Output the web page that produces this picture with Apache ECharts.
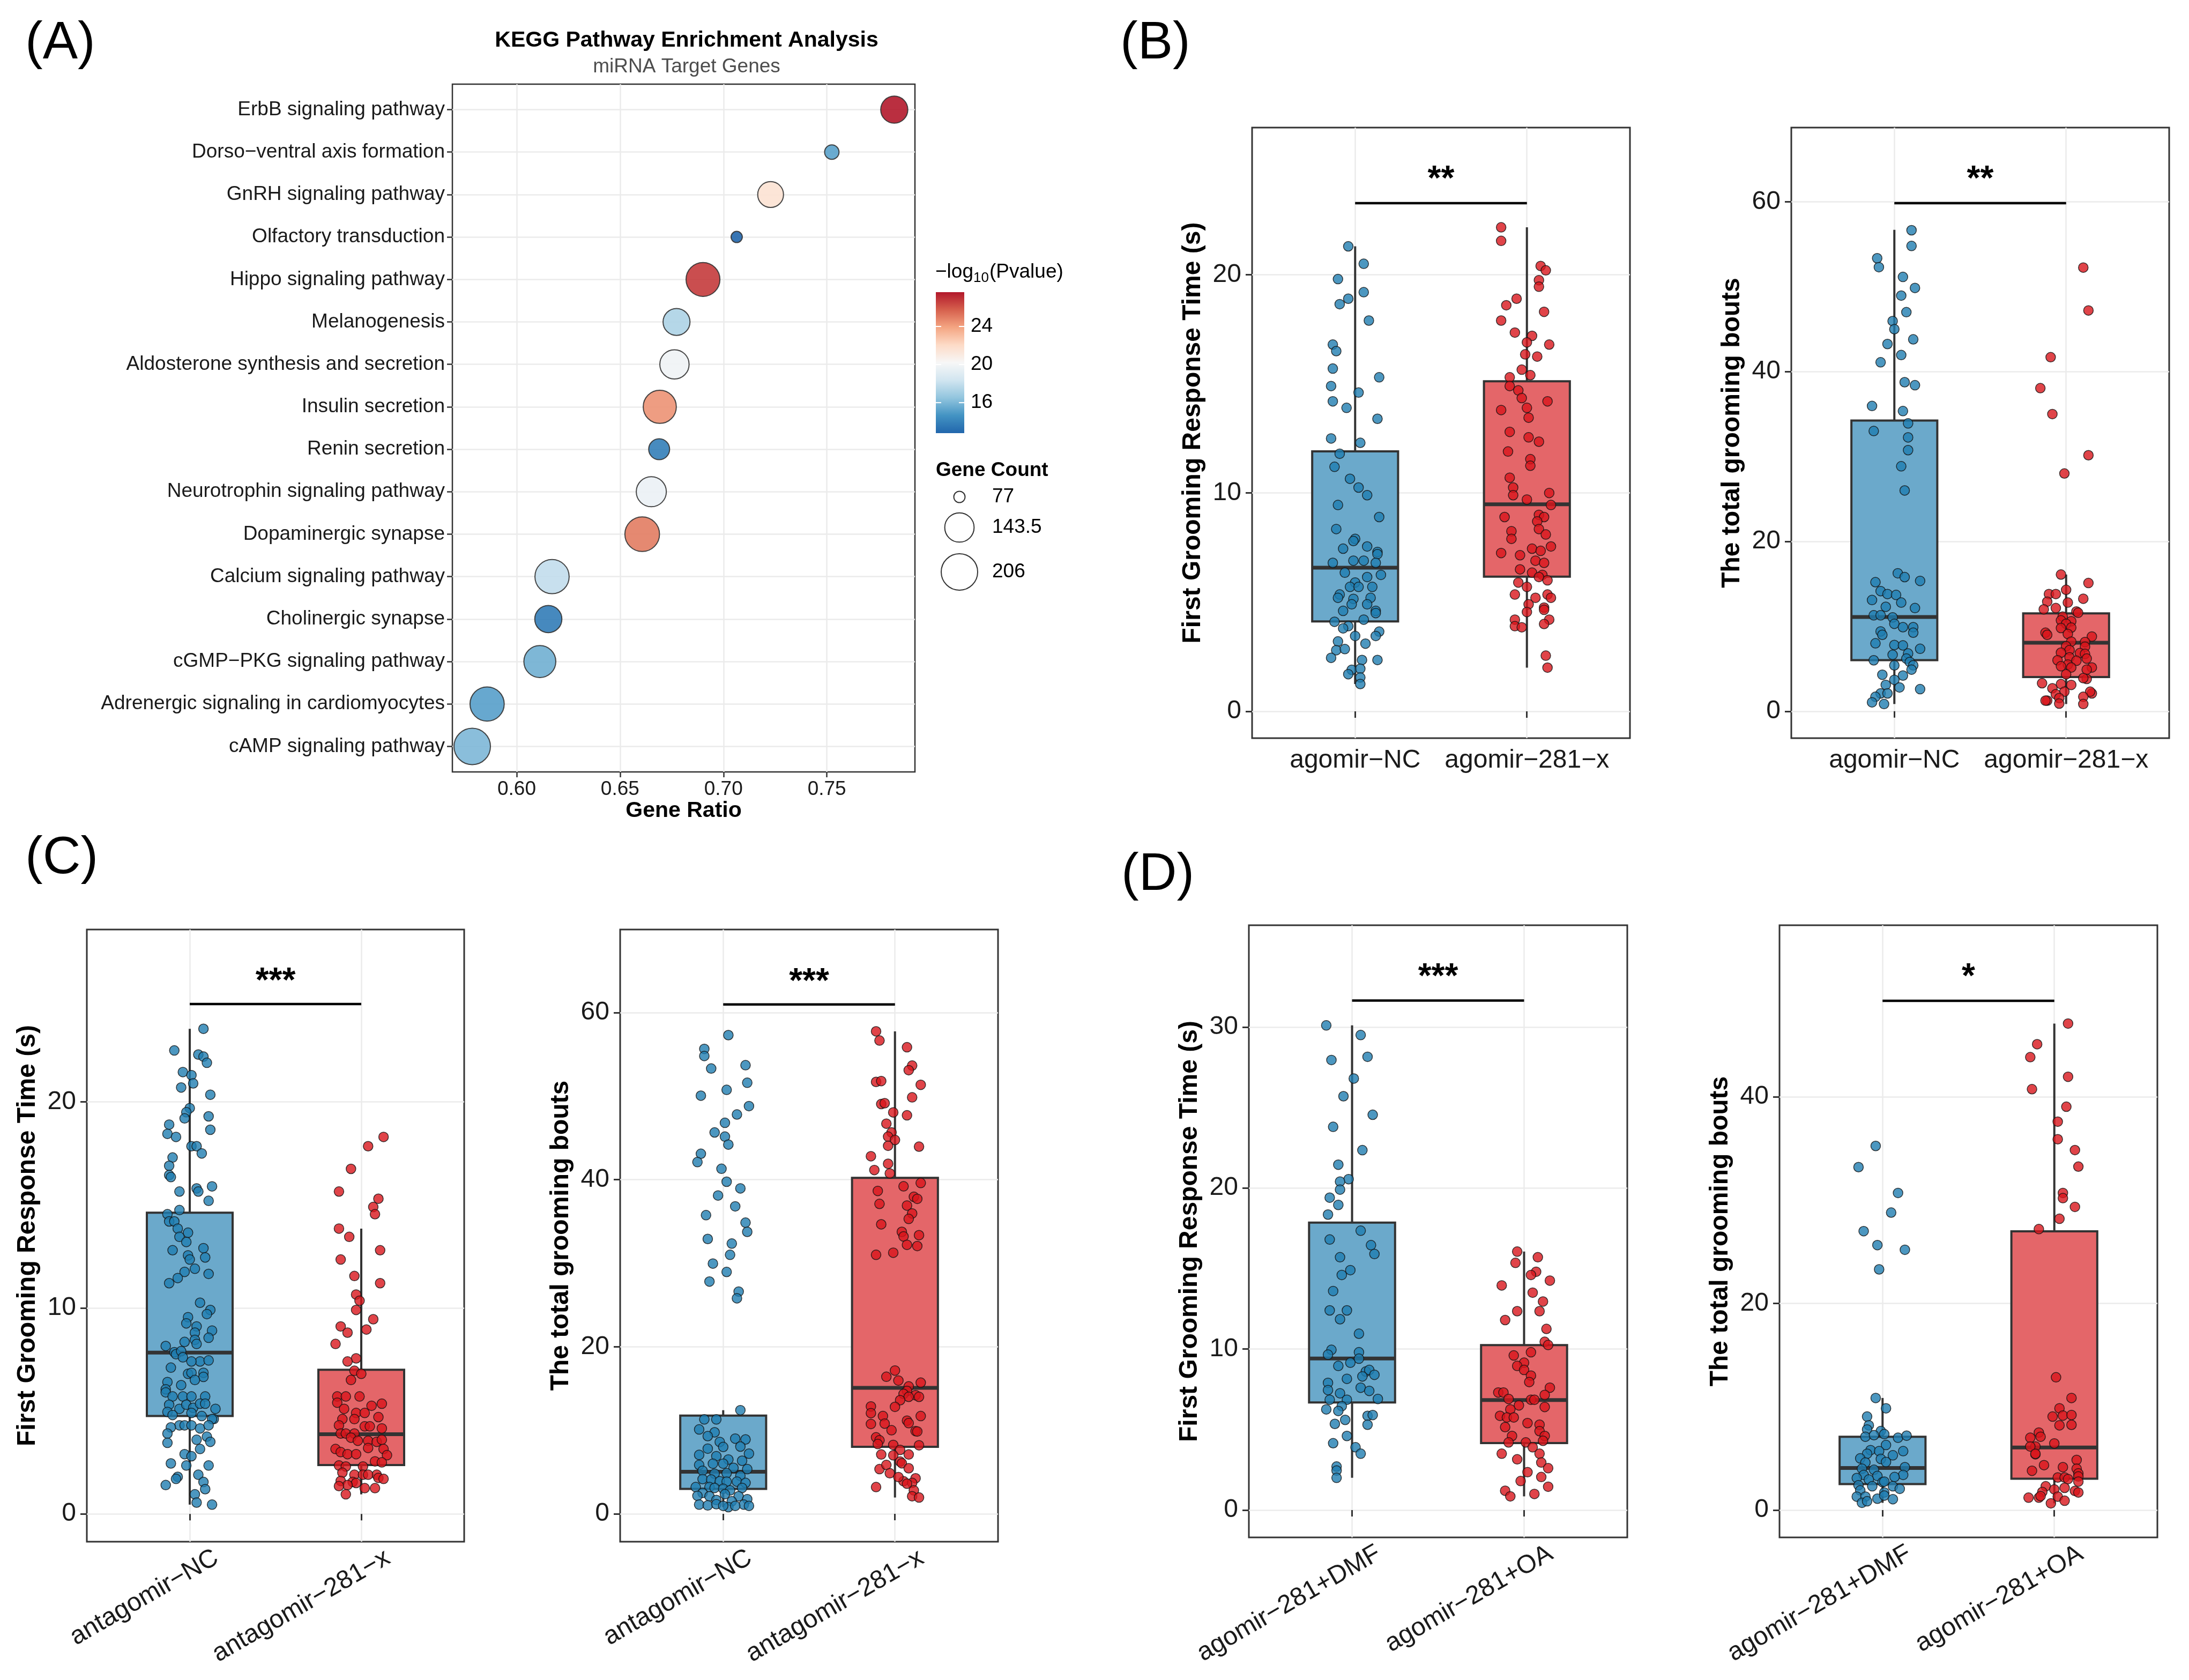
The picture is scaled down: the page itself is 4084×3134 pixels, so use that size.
<!DOCTYPE html>
<html>
<head>
<meta charset="utf-8">
<script src="https://cdn.jsdelivr.net/npm/echarts@6/dist/echarts.min.js"></script>
<style>
  html, body { margin: 0; padding: 0; background: #fff; }
  #fig { width: 4084px; height: 3134px; }
</style>
</head>
<body>
<div id="fig"></div>
<script>
// ---------- panel A : KEGG enrichment ----------
const keggTerms = ['ErbB signaling pathway', 'Dorso\u2212ventral axis formation', 'GnRH signaling pathway',
  'Olfactory transduction', 'Hippo signaling pathway', 'Melanogenesis', 'Aldosterone synthesis and secretion',
  'Insulin secretion', 'Renin secretion', 'Neurotrophin signaling pathway', 'Dopaminergic synapse',
  'Calcium signaling pathway', 'Cholinergic synapse', 'cGMP\u2212PKG signaling pathway',
  'Adrenergic signaling in cardiomyocytes', 'cAMP signaling pathway'];
const geneRatio = [0.7826, 0.7524, 0.7228, 0.7064, 0.6901, 0.6773, 0.6763, 0.6692, 0.6689, 0.6651, 0.6607, 0.6171, 0.6153, 0.6112, 0.5857, 0.5785];
const geneCount = [128, 79, 120, 77, 181, 127, 143, 174, 96, 149, 188, 184, 128, 164, 184, 206];
const negLogP = [27.6, 15.2, 21.6, 12.8, 26.7, 17.3, 19.8, 24.4, 13.8, 19.6, 25.0, 17.9, 13.7, 15.7, 15.1, 16.0];
const ratioTicks = [0.60, 0.65, 0.70, 0.75];
const pTicks = [16, 20, 24];
const countBreaks = [77, 143.5, 206];

// ---------- boxplot panels ----------
const catB = ['agomir\u2212NC', 'agomir\u2212281\u2212x'];
const catC = ['antagomir\u2212NC', 'antagomir\u2212281\u2212x'];
const catD = ['agomir\u2212281+DMF', 'agomir\u2212281+OA'];
const ticks10 = [0, 10, 20];
const ticks10b = [0, 10, 20, 30];
const ticks20 = [0, 20, 40, 60];
const ticks20b = [0, 20, 40];

// box stats: [min, Q1, median, Q3, max]
const bTimeBox = [[1.25, 4.12, 6.58, 11.91, 21.3], [2.0, 6.17, 9.48, 15.12, 22.17]];
const bBoutBox = [[0.85, 6.02, 11.1, 34.24, 56.7], [0.85, 4.03, 8.07, 11.52, 16.1]];
const cTimeBox = [[0.45, 4.75, 7.83, 14.62, 23.55], [0.95, 2.37, 3.87, 7.0, 13.85]];
const cBoutBox = [[0.8, 2.98, 5.03, 11.75, 12.4], [1.95, 8.01, 15.08, 40.22, 57.75]];
const dTimeBox = [[2.0, 6.68, 9.41, 17.85, 30.1], [0.85, 4.16, 6.83, 10.24, 16.05]];
const dBoutBox = [[0.7, 2.51, 4.07, 7.10, 10.85], [0.65, 3.03, 6.06, 26.98, 47.1]];

// significance: [bracket y, label y, label]
const bTimeSig = [23.28, 24.7, '**'];
const bBoutSig = [59.84, 63.5, '**'];
const cTimeSig = [24.75, 26.2, '***'];
const cBoutSig = [60.97, 64.5, '***'];
const dTimeSig = [31.64, 33.55, '***'];
const dBoutSig = [49.3, 52.3, '*'];

// jittered observations: [x offset from group centre, value]
const bNcTime = [[-0.04,21.3],[0.05,20.5],[-0.10,19.8],[0.05,19.2],[-0.04,18.9],[-0.09,18.65],[0.08,17.9],[-0.13,16.8],[-0.11,16.5],[-0.13,15.7],[0.14,15.3],[-0.14,14.9],[0.02,14.6],[-0.13,14.2],[-0.05,13.9],[0.13,13.4],[-0.14,12.5],[0.03,12.3],[-0.09,11.8],[-0.12,11.2],[-0.03,10.65],[0.02,10.25],[0.07,9.9],[-0.10,9.45],[0.14,8.9],[-0.11,8.35],[0,7.9],[-0.01,7.8],[0.07,7.55],[-0.07,7.45],[0.13,7.3],[0.13,7.2],[-0.13,6.8],[-0.01,6.9],[0.05,6.9],[0.12,6.8],[-0.06,6.35],[0.15,6.25],[0.07,6.15],[0,5.9],[-0.03,5.7],[0.02,5.7],[0.10,5.7],[-0.09,5.35],[-0.10,5.2],[-0.01,5.15],[0.09,5.2],[0.07,4.9],[-0.02,4.9],[-0.07,4.6],[0.12,4.6],[0.12,4.5],[-0.12,4.1],[0.05,4.2],[-0.04,3.9],[-0.07,3.8],[0.14,3.65],[0.12,3.45],[0,3.45],[-0.10,3.2],[0.06,3.1],[-0.11,2.8],[-0.06,2.85],[-0.14,2.45],[0.04,2.35],[0.13,2.35],[-0.02,1.9],[-0.04,1.7],[0.03,1.95],[0.03,1.55],[0.03,1.25]];
const bAgTime = [[-0.15,22.17],[-0.15,21.55],[0.08,20.4],[0.11,20.2],[0.07,19.75],[0.07,19.45],[-0.06,18.9],[-0.12,18.6],[0.10,18.3],[-0.15,17.9],[-0.07,17.35],[0.03,17.2],[0,16.9],[0.13,16.8],[-0.01,16.35],[0.06,16.25],[-0.03,15.65],[0.02,15.4],[-0.10,15.3],[-0.10,14.9],[-0.05,14.7],[-0.03,14.35],[0.12,14.2],[0,13.9],[-0.15,13.8],[0.01,13.45],[-0.10,12.8],[0.01,12.55],[0.07,12.35],[-0.11,11.9],[0.02,11.55],[0.02,11.25],[-0.10,10.7],[-0.08,10.25],[-0.08,9.9],[0.13,10.0],[0,9.7],[0.14,9.45],[-0.13,8.9],[0.07,9.0],[0.10,8.9],[0.06,8.7],[0.07,8.35],[-0.09,8.25],[0.11,8.1],[-0.09,7.9],[0.03,7.45],[0.08,7.35],[0.14,7.55],[-0.15,7.25],[-0.04,7.15],[0.05,6.9],[0.10,6.8],[-0.04,6.5],[0.03,6.35],[0.09,6.25],[0.07,6.15],[-0.05,5.9],[0.12,6.0],[0,5.7],[-0.07,5.35],[0.05,5.2],[0.12,5.35],[0.14,5.2],[0.01,4.9],[0.10,4.75],[0,4.55],[0.10,4.65],[-0.07,4.2],[0.13,4.2],[-0.07,3.9],[-0.03,3.85],[0.10,4.0],[0.11,2.55],[0.12,2.0]];
const bNcBout = [[0.10,56.65],[0.10,54.8],[-0.10,53.35],[-0.09,52.3],[0.05,51.15],[0.12,49.85],[0.04,48.95],[0.07,47.0],[-0.01,45.95],[0,45.0],[0.11,43.8],[-0.04,43.25],[0.04,41.95],[-0.08,41.1],[0.06,38.75],[0.12,38.4],[-0.13,35.95],[0.05,35.35],[0.08,33.9],[-0.12,33.0],[0.08,32.25],[0.08,30.75],[0.04,28.85],[0.06,26.0],[0.02,16.25],[0.06,15.8],[0.15,15.35],[-0.11,15.2],[-0.08,14.15],[-0.04,13.8],[0.01,13.7],[-0.13,13.1],[0.04,12.8],[-0.05,12.3],[0.12,12.15],[-0.12,11.3],[-0.08,11.3],[-0.01,11.05],[0,10.3],[0.05,9.9],[0.11,9.9],[-0.08,9.4],[-0.07,9.0],[0.11,9.25],[-0.11,8.0],[0,7.8],[0.05,7.75],[0.15,7.35],[-0.01,6.65],[0.08,6.8],[-0.12,6.0],[0.07,6.2],[0.09,5.8],[0.11,5.4],[0,5.4],[0.10,4.9],[-0.07,4.3],[0.05,4.2],[0,3.7],[-0.05,3.1],[0.03,2.8],[0.15,2.6],[-0.08,2.1],[-0.04,2.1],[-0.11,1.7],[-0.13,1.05],[-0.06,0.85]];
const bAgBout = [[0.10,52.25],[0.13,47.2],[-0.09,41.7],[-0.15,38.05],[-0.08,35.0],[0.13,30.15],[-0.01,28.0],[-0.03,16.1],[0.13,15.1],[-0.10,13.8],[-0.06,13.8],[0,14.3],[0.10,13.25],[-0.11,12.9],[0.01,12.8],[-0.13,12.0],[-0.06,12.15],[0.06,11.75],[0.07,11.6],[-0.02,11.15],[-0.03,10.7],[0.03,10.6],[0,10.3],[-0.03,9.8],[0.03,9.85],[-0.12,9.25],[-0.11,9.0],[0.01,9.1],[0.15,8.8],[0.03,8.2],[0.11,8.15],[0,7.65],[0.11,7.6],[0.02,7.2],[-0.03,6.9],[0.08,6.85],[0.11,6.75],[0.02,6.35],[-0.05,6.0],[0.12,6.2],[0.06,5.95],[0.01,5.5],[-0.03,5.3],[0.03,5.15],[0.15,5.15],[0.12,4.9],[0,4.35],[0.12,3.8],[0.10,3.9],[-0.14,3.3],[-0.03,3.2],[0.03,3.1],[-0.08,2.7],[-0.01,2.3],[-0.06,2.0],[0.15,2.1],[0.14,2.3],[-0.04,1.55],[-0.11,1.25],[-0.12,1.25],[0.10,1.7],[-0.04,0.9],[0.10,0.85]];
const cNcTime = [[0.08,23.55],[-0.09,22.5],[0.05,22.3],[0.08,22.2],[0.10,21.9],[-0.04,21.45],[0.01,21.3],[0.02,20.9],[-0.05,20.7],[0.12,20.35],[0,19.7],[-0.02,19.5],[-0.03,19.2],[0.11,19.3],[-0.12,18.9],[0.12,18.65],[-0.13,18.45],[-0.08,18.3],[0.01,17.85],[0.04,17.85],[0.07,17.5],[-0.10,17.3],[-0.12,16.9],[-0.12,16.45],[-0.11,16.35],[0.13,15.9],[0.04,15.8],[0.05,15.65],[-0.06,15.65],[0.11,15.2],[-0.06,14.75],[-0.13,14.55],[-0.12,14.2],[-0.09,14.2],[-0.07,13.85],[-0.01,13.65],[-0.06,13.45],[-0.02,13.2],[-0.10,12.8],[0.08,12.9],[-0.01,12.55],[0,12.35],[0.09,12.45],[0.03,11.9],[-0.03,11.75],[0.11,11.65],[-0.07,11.45],[-0.12,11.2],[0.06,10.25],[0.12,9.9],[-0.01,9.55],[0.10,9.7],[-0.02,9.25],[0.04,9.1],[0.03,8.8],[0.13,8.9],[0.11,8.55],[-0.03,8.35],[0.03,8.45],[0.04,8.25],[-0.14,8.15],[-0.09,7.85],[-0.08,7.75],[-0.05,7.9],[-0.04,7.6],[0.06,7.4],[0.01,7.4],[0.11,7.45],[-0.11,7.1],[-0.01,6.8],[0.08,6.85],[0.01,6.85],[0.08,6.65],[0.03,6.5],[-0.13,6.4],[-0.05,6.25],[-0.14,6.05],[-0.14,5.9],[-0.10,5.7],[-0.04,5.7],[0.01,5.7],[0.09,5.7],[-0.12,5.3],[-0.06,5.1],[-0.02,5.3],[0.02,5.15],[0.06,5.35],[0.09,5.35],[0.15,5.1],[-0.13,4.95],[-0.10,4.8],[0.01,4.9],[0.07,4.75],[0.14,4.6],[0.13,4.6],[-0.06,4.3],[-0.03,4.3],[0.01,4.3],[-0.11,4.2],[0.06,4.15],[0.11,4.3],[-0.13,3.9],[0.10,3.75],[0.04,3.6],[-0.13,3.45],[0.12,3.5],[0.06,3.15],[-0.03,2.9],[0.01,2.8],[-0.11,2.45],[-0.02,2.35],[0.11,2.35],[0.05,1.9],[-0.07,1.8],[-0.08,1.7],[0.08,1.55],[-0.14,1.4],[0.09,1.2],[0.03,0.95],[0.04,0.55],[0.13,0.45]];
const cAgTime = [[0.13,18.3],[0.04,17.85],[-0.06,16.75],[-0.13,15.65],[0.10,15.3],[0.07,14.9],[0.08,14.55],[-0.13,13.85],[-0.07,13.45],[0.11,12.8],[-0.12,12.35],[-0.04,11.55],[0.11,11.2],[-0.03,10.65],[-0.01,10.35],[-0.03,9.9],[0.07,9.45],[-0.12,9.1],[-0.08,8.8],[0.03,8.95],[-0.15,8.25],[-0.03,7.55],[-0.08,7.4],[-0.04,6.95],[0,6.8],[-0.06,6.5],[-0.14,5.7],[-0.09,5.7],[-0.01,5.7],[-0.14,5.4],[0.06,5.25],[0.12,5.35],[-0.10,5.1],[-0.03,4.9],[0.02,4.9],[0.10,4.7],[-0.04,4.6],[-0.11,4.6],[-0.13,4.3],[0.02,4.25],[0.05,4.25],[0.12,4.15],[-0.12,3.9],[-0.09,3.9],[-0.04,3.9],[-0.06,3.7],[-0.02,3.55],[0.04,3.55],[0.09,3.5],[0.12,3.6],[-0.15,3.15],[-0.12,3.0],[-0.08,2.9],[-0.03,2.9],[0.04,3.2],[0.13,3.15],[0.15,2.85],[0.08,2.55],[0.12,2.5],[-0.13,2.35],[-0.09,2.3],[0.01,2.3],[-0.11,2.0],[-0.04,1.9],[0.01,1.9],[0.09,1.9],[0.04,1.9],[0.10,1.75],[0.13,1.7],[-0.12,1.6],[-0.05,1.55],[-0.03,1.5],[-0.08,1.4],[-0.13,1.35],[0.02,1.25],[0.08,1.25],[-0.09,0.95]];
const cNcBout = [[0.03,57.3],[-0.11,55.65],[-0.11,54.8],[-0.07,53.3],[0.13,53.7],[0.14,51.6],[0.02,50.75],[-0.13,50.05],[0.15,48.8],[0.08,47.8],[0.01,46.8],[-0.05,45.65],[0.01,45.15],[0.03,44.2],[-0.13,43.1],[-0.15,42.1],[-0.01,41.3],[0.02,39.75],[0.10,38.95],[-0.03,38.1],[0.07,36.8],[-0.10,35.75],[0.13,34.85],[0.14,33.75],[-0.09,32.9],[0.05,32.35],[0.04,31.0],[-0.06,29.95],[0.02,28.95],[-0.08,27.8],[0.09,26.6],[0.08,25.8],[0.10,12.4],[-0.11,11.3],[-0.04,11.3],[-0.14,10.1],[-0.05,9.75],[-0.09,9.3],[0.07,9.0],[0.13,8.9],[-0.02,8.6],[0,8.0],[0.10,8.05],[-0.09,7.8],[0.15,7.2],[-0.14,7.05],[-0.04,6.9],[0.03,6.5],[0.11,6.35],[-0.06,6.0],[-0.14,5.85],[0,6.0],[0.06,5.5],[0.14,5.35],[-0.12,5.15],[-0.05,4.8],[0.02,4.85],[0.10,4.55],[-0.12,4.15],[-0.07,4.1],[-0.02,3.9],[0.02,3.85],[0.08,3.85],[0.13,3.7],[-0.16,3.2],[-0.08,3.2],[-0.05,3.1],[0,3.0],[0.04,2.8],[0.11,3.1],[-0.12,2.5],[-0.08,2.1],[0.01,2.35],[0.09,2.1],[0.14,1.75],[-0.15,2.15],[-0.04,1.65],[0.05,1.5],[-0.14,1.1],[-0.09,1.0],[-0.04,1.15],[0.03,0.8],[0.12,1.1],[0.15,0.95],[0,0.95],[0.07,0.95]];
const cAgBout = [[-0.11,57.75],[-0.09,56.65],[0.07,55.85],[0.10,53.65],[0.08,53.1],[-0.11,51.7],[-0.08,51.8],[0.15,51.35],[-0.08,49.05],[-0.06,49.15],[0.10,49.85],[-0.01,48.05],[0.07,47.7],[-0.05,46.7],[-0.02,45.65],[-0.04,45.15],[0,44.75],[-0.04,44.05],[0.14,43.95],[-0.14,42.8],[-0.04,41.9],[-0.12,41.15],[-0.03,40.75],[0.15,39.6],[0.05,39.2],[-0.10,38.65],[0.11,37.95],[0.13,37.7],[-0.09,37.1],[0.07,36.9],[0.10,35.95],[0.08,35.3],[-0.08,34.65],[0.04,33.75],[0.05,33.2],[0.14,33.35],[0.07,32.2],[0.13,32.05],[-0.11,31.0],[-0.01,31.25],[-0.05,16.4],[0,17.15],[0.02,15.95],[0.15,15.7],[0.08,15.25],[0.07,14.7],[0.05,14.35],[0.12,14.2],[0.14,14.0],[0.08,14.0],[0.03,13.6],[-0.14,12.85],[0,12.8],[-0.14,12.05],[-0.07,11.7],[0.15,11.7],[0.07,11.15],[-0.06,10.8],[0.08,10.85],[-0.14,10.75],[-0.02,10.0],[0.12,9.9],[0.13,9.85],[-0.11,9.15],[-0.09,8.8],[-0.10,8.35],[-0.01,8.25],[0.14,8.2],[0.03,7.65],[-0.01,7.0],[0.08,7.1],[-0.08,7.1],[0.03,6.25],[0.04,6.05],[-0.09,5.35],[-0.05,5.85],[0.08,5.45],[-0.03,4.85],[0.05,3.9],[0.02,4.4],[0.12,4.25],[0.10,3.7],[0.07,3.6],[-0.11,3.2],[0.11,2.8],[0.10,2.1],[0.14,1.95]];
const dDmfTime = [[-0.15,30.1],[0.05,29.5],[-0.12,27.95],[0.09,28.15],[0.01,26.8],[-0.05,25.7],[0.12,24.55],[-0.11,23.8],[0.06,22.35],[-0.08,21.45],[-0.02,20.55],[-0.07,20.4],[-0.07,19.9],[-0.13,19.4],[-0.08,18.95],[-0.14,18.35],[0.05,17.35],[-0.13,16.8],[0.11,16.45],[0.13,15.9],[-0.07,15.7],[-0.01,14.9],[-0.06,14.6],[-0.11,13.6],[-0.13,12.4],[-0.03,12.4],[-0.07,11.85],[0.04,10.95],[-0.12,9.95],[-0.14,9.65],[0.04,9.8],[0.04,9.4],[-0.01,9.15],[-0.08,8.95],[0.08,8.6],[0.10,8.7],[0.13,8.4],[0.06,8.3],[-0.03,8.15],[-0.14,7.9],[-0.14,7.45],[0.05,7.6],[0.10,7.4],[-0.07,7.25],[0.15,6.9],[-0.13,6.85],[-0.03,6.85],[-0.06,6.45],[-0.15,6.25],[-0.08,6.15],[0.09,5.85],[0.12,5.9],[-0.04,5.6],[-0.10,5.35],[0.09,5.3],[-0.03,4.6],[-0.11,4.15],[0.02,3.9],[0.05,3.5],[-0.09,2.7],[-0.09,2.45],[-0.09,2.0]];
const dOaTime = [[-0.04,16.05],[0.08,15.7],[-0.05,15.35],[0.07,14.8],[0.04,14.6],[0.15,14.25],[-0.13,13.95],[0.05,13.5],[0.11,12.95],[-0.04,12.35],[0.09,12.35],[-0.11,11.8],[0.13,11.25],[0.12,10.45],[0.14,10.25],[-0.06,9.6],[0.04,9.8],[0,9.15],[-0.04,8.95],[0,8.7],[0.04,8.35],[0.03,7.95],[0.15,7.6],[-0.15,7.3],[-0.12,7.3],[0.12,7.15],[-0.09,6.9],[0.04,6.85],[0.06,6.85],[-0.03,6.5],[0.12,6.4],[-0.08,6.25],[-0.14,5.85],[-0.10,5.75],[-0.06,5.75],[0.02,5.4],[0.09,5.3],[-0.11,5.15],[0.09,4.9],[0.12,4.6],[-0.07,4.6],[-0.09,4.2],[0.01,4.2],[0.11,4.3],[0.05,3.9],[0.09,3.5],[-0.13,3.5],[-0.04,3.15],[0.10,2.95],[0.14,2.6],[0.02,2.35],[0.10,2.05],[-0.02,1.8],[0.14,1.45],[-0.11,1.2],[0.06,1.0],[-0.08,0.85]];
const dDmfBout = [[-0.04,35.25],[-0.14,33.2],[0.09,30.7],[0.05,28.8],[-0.11,27.0],[-0.03,25.65],[0.13,25.2],[-0.02,23.3],[-0.04,10.85],[0.02,9.85],[-0.09,9.05],[-0.08,8.2],[-0.09,7.8],[-0.01,7.65],[0.01,7.35],[-0.10,7.1],[-0.05,7.25],[0.09,7.0],[0.14,7.2],[0.02,6.3],[0.12,5.7],[-0.07,5.8],[-0.02,5.7],[-0.09,5.45],[0.06,5.3],[-0.13,5.0],[-0.01,4.95],[0.02,4.65],[-0.10,4.6],[0.13,4.15],[-0.12,4.0],[-0.05,3.9],[0.12,3.4],[-0.11,3.4],[-0.03,3.3],[0.07,3.2],[-0.15,3.1],[-0.08,2.95],[0,2.7],[0.01,2.75],[-0.06,2.3],[0.06,2.3],[-0.14,2.4],[0.10,2.05],[-0.13,1.9],[0.01,1.7],[-0.15,1.3],[-0.10,1.3],[-0.03,1.1],[0.01,1.4],[0.06,1.05],[-0.12,0.7],[-0.09,0.85]];
const dOaBout = [[0.08,47.1],[-0.10,45.1],[-0.14,43.85],[0.08,41.95],[-0.13,40.75],[0.07,39.05],[0.02,37.6],[0.02,35.9],[0.12,34.85],[0.14,33.25],[0.05,30.7],[0.05,30.2],[0.12,29.35],[0.03,28.2],[-0.09,27.2],[0.01,12.85],[0.10,10.85],[0.03,9.85],[-0.01,9.05],[0.05,9.15],[0.10,9.2],[0.03,8.2],[0.10,8.25],[-0.09,7.5],[-0.14,7.0],[-0.08,7.1],[-0.11,6.15],[0,6.45],[-0.14,6.15],[-0.11,5.4],[-0.11,5.45],[0.13,4.85],[-0.06,4.35],[0.05,4.15],[0.13,4.0],[0.14,3.55],[-0.13,3.8],[0.02,3.15],[0.06,3.15],[0.08,3.0],[0.14,3.25],[0.14,2.75],[-0.05,2.3],[0,2.0],[0.06,2.15],[0.12,1.85],[-0.07,1.75],[0.14,1.7],[-0.15,1.2],[-0.09,1.2],[-0.08,1.35],[0.02,1.3],[-0.02,0.65],[0.06,0.9]];

// ---------- styling ----------
const FONT = 'Liberation Sans, Arial, Helvetica, sans-serif';
const INK = '#1a1a1a';
const rdbu = ['#2166AC', '#4393C3', '#92C5DE', '#D1E5F0', '#F7F7F7', '#FDDBC7', '#F4A582', '#D6604D', '#B2182B'];
const ptColor = ['#1F7DB0', '#D8151B'];
const boxColor = ['#6BA9CB', '#E46669'];
const pMin = Math.min(...negLogP), pMax = Math.max(...negLogP);
const cMin = Math.min(...geneCount), cMax = Math.max(...geneCount);
function bubble(c) { return 21 + 47 * Math.sqrt((c - cMin) / (cMax - cMin)); }

const panels = [
  { rect: [2336, 238, 705, 1139], yr: [-1.23, 26.74], ticks: ticks10, name: 'First Grooming Response Time (s)', cats: catB, box: bTimeBox, pts: [bNcTime, bAgTime], sig: bTimeSig, rot: false },
  { rect: [3342, 238, 705, 1139], yr: [-3.17, 68.74], ticks: ticks20, name: 'The total grooming bouts', cats: catB, box: bBoutBox, pts: [bNcBout, bAgBout], sig: bBoutSig, rot: false },
  { rect: [162, 1734, 704, 1142], yr: [-1.35, 28.37], ticks: ticks10, name: 'First Grooming Response Time (s)', cats: catC, box: cTimeBox, pts: [cNcTime, cAgTime], sig: cTimeSig, rot: true },
  { rect: [1157, 1734, 705, 1142], yr: [-3.34, 69.94], ticks: ticks20, name: 'The total grooming bouts', cats: catC, box: cBoutBox, pts: [cNcBout, cAgBout], sig: cBoutSig, rot: true },
  { rect: [2330, 1726, 706, 1142], yr: [-1.70, 36.32], ticks: ticks10b, name: 'First Grooming Response Time (s)', cats: catD, box: dTimeBox, pts: [dDmfTime, dOaTime], sig: dTimeSig, rot: true },
  { rect: [3320, 1726, 705, 1142], yr: [-2.65, 56.62], ticks: ticks20b, name: 'The total grooming bouts', cats: catD, box: dBoutBox, pts: [dDmfBout, dOaBout], sig: dBoutSig, rot: true }
];

const grid = [{ left: 844, top: 157, width: 863, height: 1283, show: true, borderColor: '#333', borderWidth: 2.5, backgroundColor: '#fff' }];
const xAxis = [{
  gridIndex: 0, type: 'value', min: 0.5689, max: 0.7926,
  name: 'Gene Ratio', nameLocation: 'middle', nameGap: 48,
  nameTextStyle: { fontSize: 41, fontWeight: 'bold', color: '#000', fontFamily: FONT },
  axisLine: { show: false },
  axisTick: { customValues: ratioTicks, length: 10, lineStyle: { color: '#333', width: 2.5 } },
  axisLabel: { customValues: ratioTicks, fontSize: 37, color: INK, margin: 14, formatter: v => v.toFixed(2) },
  splitLine: { show: true, lineStyle: { color: '#ebebeb', width: 2.5 } }
}];
const rowPos = keggTerms.map((t, i) => i + 1);
const yAxis = [{
  gridIndex: 0, type: 'value', inverse: true, min: 0.4, max: keggTerms.length + 0.6,
  axisLine: { show: false },
  axisTick: { customValues: rowPos, length: 10, lineStyle: { color: '#333', width: 2.5 } },
  axisLabel: { customValues: rowPos, fontSize: 37, color: INK, margin: 14, formatter: v => keggTerms[Math.round(v) - 1] },
  splitLine: { show: true, lineStyle: { color: '#ebebeb', width: 2.5 } }
}];

const series = [{
  type: 'scatter', xAxisIndex: 0, yAxisIndex: 0, z: 3,
  data: keggTerms.map((t, i) => [geneRatio[i], i + 1, geneCount[i], negLogP[i]]),
  symbolSize: v => bubble(v[2]),
  itemStyle: { borderColor: '#333', borderWidth: 2, opacity: 0.9 }
}];

panels.forEach((p, k) => {
  const gi = k + 1;
  grid.push({ left: p.rect[0], top: p.rect[1], width: p.rect[2], height: p.rect[3], show: true, borderColor: '#333', borderWidth: 3, backgroundColor: '#fff' });
  xAxis.push({
    gridIndex: gi, type: 'value', min: 0.4, max: 2.6,
    axisLine: { show: false },
    axisTick: { customValues: [1, 2], length: 12, lineStyle: { color: '#333', width: 3 } },
    axisLabel: { show: !p.rot, customValues: [1, 2], fontSize: 48, color: INK, margin: 18, formatter: v => p.cats[Math.round(v) - 1] },
    splitLine: { show: true, lineStyle: { color: '#ebebeb', width: 2.5 } }
  });
  yAxis.push({
    gridIndex: gi, type: 'value', min: p.yr[0], max: p.yr[1],
    name: p.name, nameLocation: 'middle', nameGap: 86, nameRotate: 90,
    nameTextStyle: { fontSize: 48, fontWeight: 'bold', color: '#000', fontFamily: FONT },
    axisLine: { show: false },
    axisTick: { customValues: p.ticks, length: 12, lineStyle: { color: '#333', width: 3 } },
    axisLabel: { customValues: p.ticks, fontSize: 48, color: INK, margin: 20 },
    splitLine: { show: true, lineStyle: { color: '#ebebeb', width: 2.5 } }
  });

  // boxes (no whisker caps, as in ggplot)
  series.push({
    type: 'custom', xAxisIndex: gi, yAxisIndex: gi, z: 2,
    data: p.box.map((b, i) => [i + 1].concat(b)),
    renderItem: (params, api) => {
      const x = api.value(0);
      const tl = api.coord([x - 0.25, api.value(4)]);
      const br = api.coord([x + 0.25, api.value(2)]);
      const hi = api.coord([x, api.value(5)]);
      const lo = api.coord([x, api.value(1)]);
      const md = api.coord([x, api.value(3)]);
      return { type: 'group', children: [
        { type: 'line', shape: { x1: hi[0], y1: hi[1], x2: hi[0], y2: tl[1] }, style: { stroke: '#333', lineWidth: 4 } },
        { type: 'line', shape: { x1: lo[0], y1: br[1], x2: lo[0], y2: lo[1] }, style: { stroke: '#333', lineWidth: 4 } },
        { type: 'rect', shape: { x: tl[0], y: tl[1], width: br[0] - tl[0], height: br[1] - tl[1] }, style: { fill: boxColor[params.dataIndex], stroke: '#333', lineWidth: 4 } },
        { type: 'line', shape: { x1: tl[0], y1: md[1], x2: br[0], y2: md[1] }, style: { stroke: '#333', lineWidth: 7 } }
      ] };
    }
  });

  // jittered points
  p.pts.forEach((arr, g) => {
    series.push({
      type: 'scatter', xAxisIndex: gi, yAxisIndex: gi, z: 3,
      data: arr.map(d => [g + 1 + d[0], d[1]]),
      symbolSize: 18,
      itemStyle: { color: ptColor[g], opacity: 0.8, borderColor: '#111', borderWidth: 1.5 }
    });
  });

  // significance bracket
  series.push({
    type: 'custom', xAxisIndex: gi, yAxisIndex: gi, z: 4,
    data: [[1, 2, p.sig[0], p.sig[1]]],
    renderItem: (params, api) => {
      const a = api.coord([api.value(0), api.value(2)]);
      const b = api.coord([api.value(1), api.value(2)]);
      const s = api.coord([(api.value(0) + api.value(1)) / 2, api.value(3)]);
      return { type: 'group', children: [
        { type: 'line', shape: { x1: a[0], y1: a[1], x2: b[0], y2: b[1] }, style: { stroke: '#000', lineWidth: 4.5 } },
        { type: 'text', x: s[0], y: s[1] + 15, style: { text: p.sig[2], fontSize: 64, fontWeight: 'bold', fontFamily: FONT, fill: '#000', align: 'center', verticalAlign: 'middle', textAlign: 'center', textVerticalAlign: 'middle' } }
      ] };
    }
  });

  // rotated category labels
  if (p.rot) {
    series.push({
      type: 'custom', xAxisIndex: gi, yAxisIndex: gi, z: 4,
      data: [[1], [2]],
      renderItem: (params, api) => {
        const c = api.coord([api.value(0), p.yr[0]]);
        return { type: 'text', x: c[0] + 38, y: c[1] + 6, rotation: Math.PI / 6,
          style: { text: p.cats[params.dataIndex], fontSize: 48, fontFamily: FONT, fill: INK, align: 'right', verticalAlign: 'top', textAlign: 'right', textVerticalAlign: 'top' } };
      }
    });
  }
});

// ---------- legends & panel tags ----------
const cbX = 1746, cbTop = 545, cbW = 53, cbH = 263;
const cbY = v => cbTop + cbH - (v - pMin) / (pMax - pMin) * cbH;
const txt = (text, x, y, size, extra) => Object.assign({ type: 'text', x: x, y: y, style: Object.assign({ text: text, fontSize: size, fontFamily: FONT, fill: '#000', align: 'left', verticalAlign: 'middle', textAlign: 'left', textVerticalAlign: 'middle' }, extra || {}) });
const graphic = [
  txt('(A)', 47, 82, 98), txt('(B)', 2090, 82, 98), txt('(C)', 47, 1602, 98), txt('(D)', 2092, 1633, 98),
  txt('\u2212log', 1745, 508, 37), txt('10', 1816, 519, 26), txt('(Pvalue)', 1846, 508, 37),
  { type: 'rect', shape: { x: cbX, y: cbTop, width: cbW, height: cbH },
    style: { fill: new echarts.graphic.LinearGradient(0, 0, 0, 1, rdbu.slice().reverse().map((c, i) => ({ offset: i / (rdbu.length - 1), color: c }))) } },
  txt('Gene Count', 1746, 878, 37, { fontWeight: 'bold' })
];
pTicks.forEach(v => {
  const y = cbY(v);
  graphic.push({ type: 'line', shape: { x1: cbX, y1: y, x2: cbX + 10, y2: y }, style: { stroke: '#fff', lineWidth: 2 } });
  graphic.push({ type: 'line', shape: { x1: cbX + cbW - 10, y1: y, x2: cbX + cbW, y2: y }, style: { stroke: '#fff', lineWidth: 2 } });
  graphic.push(txt(String(v), 1811, y, 37));
});
const legY = [927, 984, 1067];
countBreaks.forEach((c, i) => {
  graphic.push({ type: 'circle', shape: { cx: 1790, cy: legY[i], r: bubble(c) / 2 }, style: { fill: '#fff', stroke: '#333', lineWidth: 2 } });
  graphic.push(txt(String(c), 1851, legY[i], 37));
});

const chart = echarts.init(document.getElementById('fig'), null, { renderer: 'canvas' });
chart.setOption({
  animation: false,
  backgroundColor: '#fff',
  textStyle: { fontFamily: FONT },
  title: [{
    text: 'KEGG Pathway Enrichment Analysis', subtext: 'miRNA Target Genes',
    left: 1276, top: 50, textAlign: 'center', itemGap: 10,
    textStyle: { fontSize: 41, fontWeight: 'bold', color: '#000', fontFamily: FONT },
    subtextStyle: { fontSize: 37, color: '#4d4d4d', fontFamily: FONT }
  }],
  visualMap: [{ type: 'continuous', show: false, seriesIndex: 0, dimension: 3, min: pMin, max: pMax, inRange: { color: rdbu } }],
  grid: grid, xAxis: xAxis, yAxis: yAxis, series: series, graphic: graphic
});
</script>
</body>
</html>
